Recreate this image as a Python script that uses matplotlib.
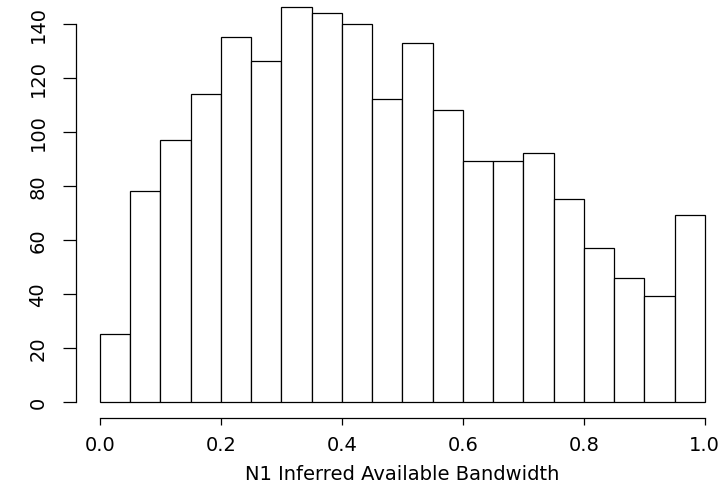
import numpy as np
import matplotlib
matplotlib.use("Agg")
import matplotlib.pyplot as plt

# histogram of N1 inferred available bandwidth (20 bins of width 0.05)
bin_edges = [0.0, 0.05, 0.10, 0.15, 0.20, 0.25, 0.30, 0.35, 0.40, 0.45, 0.50,
             0.55, 0.60, 0.65, 0.70, 0.75, 0.80, 0.85, 0.90, 0.95, 1.0]
counts = [25, 78, 97, 114, 135, 126, 146, 144, 140, 112,
          133, 108, 89, 89, 92, 75, 57, 46, 39, 69]
x_ticks = [0.0, 0.2, 0.4, 0.6, 0.8, 1.0]
y_ticks = [0, 20, 40, 60, 80, 100, 120, 140]
x_label = "N1 Inferred Available Bandwidth"

plt.rcParams["font.family"] = ["DejaVu Sans"]

W, H = 727, 489
fig = plt.figure(figsize=(W / 100, H / 100), dpi=100)

# R-style plot region: data range padded by 4 %
ymax = max(counts)
xlo, xhi = -0.04, 1.04
ylo, yhi = -0.04 * ymax, ymax * 1.04
px_left, px_right = 75.8, 729.0
px_bottom, px_top = 418.5, -7.3
ax = fig.add_axes([px_left / W, 1 - px_bottom / H,
                   (px_right - px_left) / W, (px_bottom - px_top) / H])
ax.set_xlim(xlo, xhi)
ax.set_ylim(ylo, yhi)
ax.patch.set_alpha(0)

widths = np.diff(bin_edges)
ax.bar(bin_edges[:-1], counts, width=widths, align="edge",
       facecolor="white", edgecolor="black", linewidth=0.9)

for s in ["top", "right"]:
    ax.spines[s].set_visible(False)
ax.spines["left"].set_bounds(y_ticks[0], y_ticks[-1])
ax.spines["bottom"].set_bounds(x_ticks[0], x_ticks[-1])
ax.spines["left"].set_linewidth(0.9)
ax.spines["bottom"].set_linewidth(0.9)

ax.set_xticks(x_ticks)
ax.set_xticklabels([f"{v:.1f}" for v in x_ticks])
ax.set_yticks(y_ticks)
ax.set_yticklabels([str(v) for v in y_ticks], rotation=90, va="center")
ax.tick_params(axis="y", direction="out", length=9.4, width=0.9, pad=11,
               labelsize=14)
ax.tick_params(axis="x", direction="out", length=4.7, width=0.9, pad=8,
               labelsize=14)
ax.set_xlabel(x_label, fontsize=14, labelpad=7)

fig.savefig("out.png", dpi=100)
